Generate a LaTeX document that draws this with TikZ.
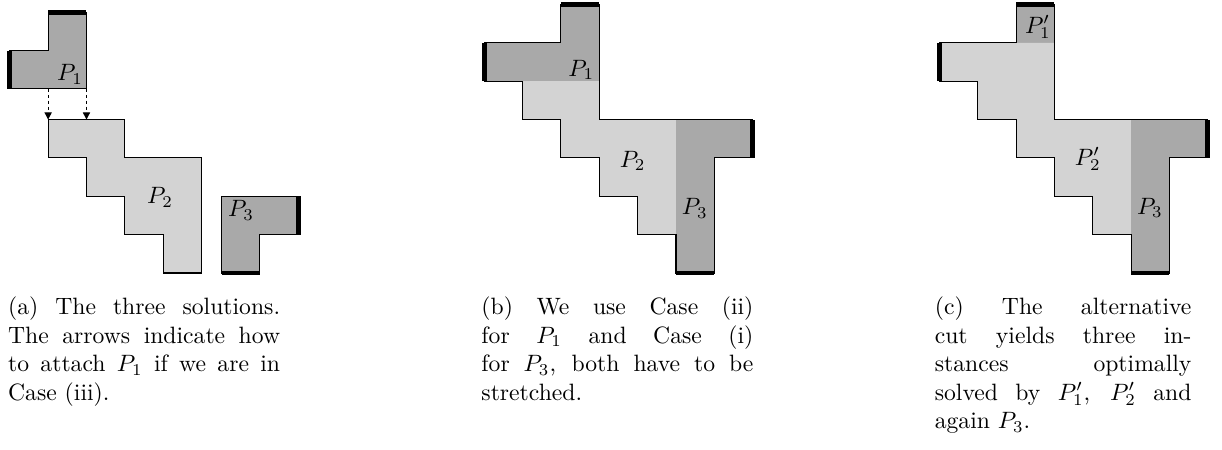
\documentclass[tikz,border=0pt]{standalone}
\usepackage{amsmath,amssymb}
\usepackage{tikz}
\usetikzlibrary{arrows.meta,positioning,calc}
\definecolor{soldark}{RGB}{169,169,169}
\definecolor{sollight}{RGB}{211,211,211}
\tolerance=9999
\hbadness=10000
\tikzset{
  pdark/.style={fill=soldark},
  plight/.style={fill=sollight},
  bnd/.style={draw=black, line width=0.45pt, line join=miter},
  sbar/.style={black, line width=2pt},
  plab/.style={inner sep=0pt},
  attarr/.style={-{Triangle[length=3pt, width=3pt]}, black, line width=0.45pt,
      dash pattern=on 1.5pt off 1pt},
  capt/.style={anchor=base west, inner sep=0pt, align=justify},
}
\begin{document}
\begin{tikzpicture}[x=0.57cm, y=0.57cm]
  \useasboundingbox (0,-4.614) rectangle (31.86,7.117);
  % (a) the three solutions side by side
  \begin{scope}[shift={(0.255,0)}]
    \filldraw[pdark, bnd] (1,6.8) -- (2,6.8) -- (2,4.8) -- (0,4.8) -- (0,5.8) -- (1,5.8) -- cycle;
    \filldraw[plight, bnd] (1,4) -- (3,4) -- (3,3) -- (5,3) -- (5,0) -- (4,0) -- (4,1) -- (3,1)
      -- (3,2) -- (2,2) -- (2,3) -- (1,3) -- cycle;
    \filldraw[pdark, bnd] (5.52,2) -- (7.52,2) -- (7.52,1) -- (6.52,1) -- (6.52,0) -- (5.52,0) -- cycle;
    \draw[sbar] (1,6.8) -- (2,6.8);
    \draw[sbar] (0,4.8) -- (0,5.8);
    \draw[sbar] (7.52,1) -- (7.52,2);
    \draw[sbar] (5.52,0) -- (6.52,0);
    \coordinate (la) at (1,4.8);
    \coordinate (lb) at (1,4);
    \coordinate (ra) at (2,4.8);
    \coordinate (rb) at (2,4);
    \draw[attarr] (la) -- (lb);
    \draw[attarr] (ra) -- (rb);
    \node[plab] (pa1) at (1.57,5.18) {$P_1$};
    \node[plab] (pa2) at (3.92,1.97) {$P_2$};
    \node[plab] (pa3) at (6.03,1.63) {$P_3$};
  \end{scope}
  % (b) stretched P1 and P3
  \begin{scope}[shift={(12.625,0)}]
    \fill[pdark] (2,7) -- (3,7) -- (3,5) -- (0,5) -- (0,6) -- (2,6) -- cycle;
    \fill[plight] (1,5) -- (3,5) -- (3,4) -- (5,4) -- (5,1) -- (4,1) -- (4,2) -- (3,2) -- (3,3)
      -- (2,3) -- (2,4) -- (1,4) -- cycle;
    \fill[pdark] (5,4) -- (7,4) -- (7,3) -- (6,3) -- (6,0) -- (5,0) -- cycle;
    \draw[bnd] (2,7) -- (3,7) -- (3,4) -- (7,4) -- (7,3) -- (6,3) -- (6,0) -- (5,0) -- (5,1)
      -- (4,1) -- (4,2) -- (3,2) -- (3,3) -- (2,3) -- (2,4) -- (1,4) -- (1,5) -- (0,5)
      -- (0,6) -- (2,6) -- cycle;
    \draw[sbar] (2,7) -- (3,7);
    \draw[sbar] (0,5) -- (0,6);
    \draw[sbar] (7,3) -- (7,4);
    \draw[sbar] (5,0) -- (6,0);
    \node[plab] (pb1) at (2.53,5.3) {$P_1$};
    \node[plab] (pb2) at (3.87,2.92) {$P_2$};
    \node[plab] (pb3) at (5.49,1.69) {$P_3$};
  \end{scope}
  % (c) the alternative cut
  \begin{scope}[shift={(24.49,0)}]
    \fill[pdark] (2,7) -- (3,7) -- (3,6) -- (2,6) -- cycle;
    \fill[plight] (2,6) -- (3,6) -- (3,4) -- (5,4) -- (5,1) -- (4,1) -- (4,2) -- (3,2) -- (3,3)
      -- (2,3) -- (2,4) -- (1,4) -- (1,5) -- (0,5) -- (0,6) -- cycle;
    \fill[pdark] (5,4) -- (7,4) -- (7,3) -- (6,3) -- (6,0) -- (5,0) -- cycle;
    \draw[bnd] (2,7) -- (3,7) -- (3,4) -- (7,4) -- (7,3) -- (6,3) -- (6,0) -- (5,0) -- (5,1)
      -- (4,1) -- (4,2) -- (3,2) -- (3,3) -- (2,3) -- (2,4) -- (1,4) -- (1,5) -- (0,5)
      -- (0,6) -- (2,6) -- cycle;
    \draw[sbar] (2,7) -- (3,7);
    \draw[sbar] (0,5) -- (0,6);
    \draw[sbar] (7,3) -- (7,4);
    \draw[sbar] (5,0) -- (6,0);
    \node[plab] (pc1) at (2.57,6.41) {$P'_1$};
    \node[plab] (pc2) at (3.87,2.97) {$P'_2$};
    \node[plab] (pc3) at (5.49,1.70) {$P_3$};
  \end{scope}
  % captions
  \node[capt, text width=115pt] (capa) at (0.20,-1.095)
    {(a) The three solutions.\linebreak The arrows indicate how\linebreak to attach $P_1$ if
     we are in\linebreak Case (iii).};
  \node[capt, text width=115pt] (capb) at (12.54,-1.095)
    {(b) We use Case (ii)\linebreak for $P_1$ and Case (i)\linebreak for $P_3$, both have to
     be\linebreak stretched.};
  \node[capt, text width=108.5pt] (capc) at (24.36,-1.095)
    {(c) The alternative\linebreak cut yields three in-\linebreak stances optimally\linebreak
     solved by $P'_1$, $P'_2$ and\linebreak again $P_3$.};
\end{tikzpicture}
\end{document}
